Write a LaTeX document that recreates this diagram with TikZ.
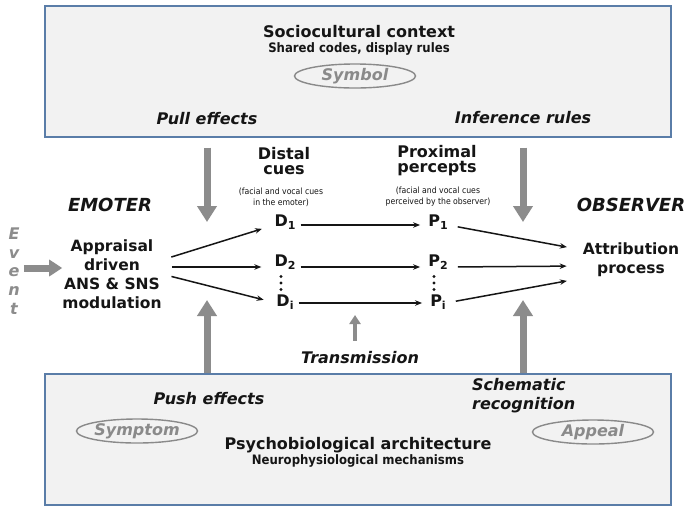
\documentclass[tikz,border=0pt]{standalone}
\usepackage{fontspec}
\setmainfont{DejaVu Sans}
\newfontfamily\condfont{DejaVu Sans Condensed}
\usetikzlibrary{arrows.meta,shapes.geometric}
\definecolor{txt}{HTML}{151515}
\definecolor{boxc}{HTML}{5A7DA8}
\definecolor{boxf}{HTML}{F2F2F2}
\definecolor{arrg}{HTML}{8C8C8C}
\definecolor{ellg}{HTML}{8A8A8A}
\newcommand\dsub[1]{\raisebox{-0.35ex}{\fontsize{11}{11}\selectfont #1}}
\tikzset{
  every node/.style={inner sep=0pt, text=txt},
  bx/.style={draw=boxc, fill=boxf, line width=1.4pt, minimum width=626pt, minimum height=131pt},
  head/.style={font=\fontsize{16}{19}\selectfont\bfseries},
  subhead/.style={font=\condfont\fontsize{13}{15}\selectfont\bfseries},
  lab/.style={font=\fontsize{16}{19}\selectfont\bfseries\itshape},
  actor/.style={font=\fontsize{18}{20}\selectfont\bfseries\itshape},
  proc/.style={font=\fontsize{15.5}{19}\selectfont\bfseries, align=center},
  cue/.style={font=\fontsize{16}{15}\selectfont\bfseries, align=center},
  tiny/.style={font=\condfont\fontsize{8.6}{11}\selectfont, align=center},
  dp/.style={font=\fontsize{16}{16}\selectfont\bfseries},
  dotc/.style={fill=txt},
  oval/.style={ellipse, draw=ellg, line width=1.4pt, minimum width=121pt, minimum height=24pt,
     font=\fontsize{16}{19}\selectfont\bfseries\itshape, text=ellg},
  fat/.style={draw=arrg, line width=7pt, -{Triangle[width=19pt,length=16pt]}},
  slim/.style={draw=arrg, line width=4pt, -{Triangle[width=11pt,length=9pt]}},
  thin/.style={draw=txt, line width=1.5pt, -{Stealth[length=7pt,width=5.5pt]}},
  hor/.style={draw=txt, line width=2pt, -{Stealth[length=7pt,width=5.5pt]}},
}
\begin{document}
\begin{tikzpicture}[x=1pt,y=-1pt]
\useasboundingbox (0,0) rectangle (687,507);
\fill[white] (0,0) rectangle (687,507);

% boxes
\node[bx] (top) at (358,71.5) {};
\node[bx] (bot) at (358,439.5) {};

% top box content
\node[head] (soc) at (359,32) {Sociocultural context};
\node[subhead] (shared) at (359,49) {Shared codes, display rules};
\node[oval] (symbol) at (355,76) {Symbol};
\node[lab] (pull) at (207,119) {Pull effects};
\node[lab] (infer) at (523,118) {Inference rules};

% bottom box content
\node[lab] (push) at (209,399) {Push effects};
\node[lab, align=left, anchor=west] (schem) at (472,395.5) {Schematic\\recognition};
\node[oval] (symptom) at (137,431) {Symptom};
\node[oval] (appeal) at (593,432) {Appeal};
\node[head] (psy) at (358,445) {Psychobiological architecture};
\node[subhead] (neuro) at (358,461) {Neurophysiological mechanisms};

% actors
\node[actor] (emoter) at (110,205) {EMOTER};
\node[actor] (observer) at (631,205) {OBSERVER};

% event
\node[font=\fontsize{16}{18.8}\selectfont\bfseries\itshape, text=arrg, align=center] (ev) at (14,271) {E\\v\\e\\n\\t};

% appraisal and attribution
\node[proc] (app) at (112,274) {Appraisal\\driven\\ANS \& SNS\\modulation};
\node[proc] (att) at (631,260) {Attribution\\process};

% cue headers
\node[cue] (distal) at (284,161) {Distal\\cues};
\node[cue] (prox) at (437,161) {Proximal\\percepts};
\node[tiny] (dnote) at (281,197) {(facial and vocal cues\\in the emoter)};
\node[tiny] (pnote) at (438,197) {(facial and vocal cues\\perceived by the observer)};

% cues
\node[dp] (D1) at (285,222) {D\dsub{1}};
\node[dp] (D2) at (285,262) {D\dsub{2}};
\node[dp] (Di) at (285,302) {D\dsub{i}};
\node[dp] (P1) at (438,222) {P\dsub{1}};
\node[dp] (P2) at (438,262) {P\dsub{2}};
\node[dp] (Pi) at (438,302) {P\dsub{i}};
% vertical ellipsis dots
\coordinate (Dd) at (281,283);
\coordinate (Pd) at (434,283);
\foreach \dy in {-6.5,0,6.5} {
  \fill[dotc] ([yshift=\dy pt]Dd) circle (1.7pt);
  \fill[dotc] ([yshift=\dy pt]Pd) circle (1.7pt);
}

% transmission
\node[lab] (trans) at (360,358) {Transmission};

% gray arrows
\coordinate (pullL) at (207,222);
\coordinate (pullR) at (523,222);
\coordinate (pushL) at (207,300);
\coordinate (pushR) at (523,300);
\coordinate (trT) at (355,315);
\coordinate (evA) at (40,268);
\draw[fat, shorten <=10pt] (top.south -| pullL) -- (pullL);
\draw[fat, shorten <=10pt] (top.south -| pullR) -- (pullR);
\draw[fat] (bot.north -| pushL) -- (pushL);
\draw[fat] (bot.north -| pushR) -- (pushR);
\draw[slim, shorten <=11pt] (trans.north -| trT) -- (trT);
\draw[draw=arrg, line width=7pt, -{Triangle[width=16pt,length=13pt]}, shorten <=4pt]
  (ev.east |- evA) -- (app.west |- evA);

% black arrows emoter -> distal cues
\draw[thin, shorten <=10pt, shorten >=13pt] ([yshift=14pt]app.east) -- ([yshift=-3pt]D1.west);
\draw[thin, shorten <=10pt, shorten >=13pt] ([yshift=7pt]app.east) -- ([yshift=-5pt]D2.west);
\draw[thin, shorten <=10pt, shorten >=13pt] (app.east) -- ([yshift=-1pt]Di.west);

% distal -> proximal
\draw[hor, shorten <=5pt, shorten >=8pt] ([yshift=-3pt]D1.east) -- ([yshift=-3pt]P1.west);
\draw[hor, shorten <=5pt, shorten >=8pt] ([yshift=-5pt]D2.east) -- ([yshift=-5pt]P2.west);
\draw[hor, shorten <=5pt, shorten >=8pt] ([yshift=-1pt]Di.east) -- ([yshift=-1pt]Pi.west);

% proximal -> attribution
\draw[thin, shorten <=10pt, shorten >=16pt] ([yshift=-3pt]P1.east) -- ([yshift=10pt]att.west);
\draw[thin, shorten <=10pt, shorten >=16pt] ([yshift=-5pt]P2.east) -- ([yshift=-6pt]att.west);
\draw[thin, shorten <=10pt, shorten >=16pt] ([yshift=-1pt]Pi.east) -- ([yshift=-18pt]att.west);
\end{tikzpicture}
\end{document}
